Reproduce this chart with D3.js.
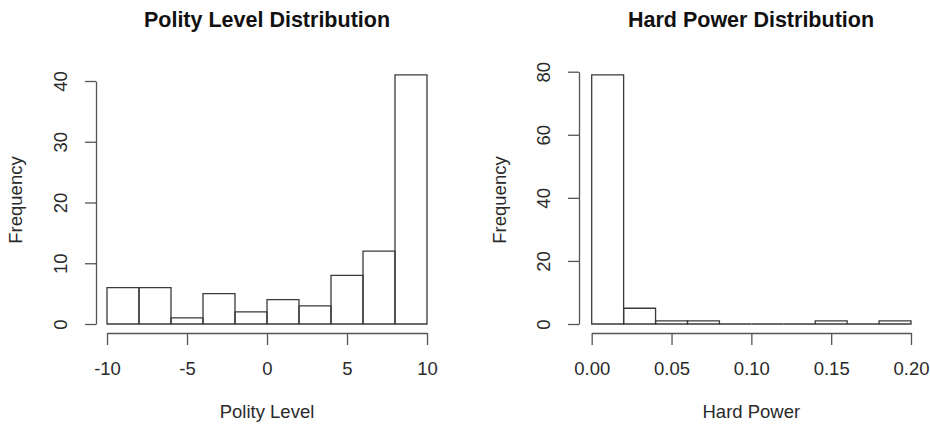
<!DOCTYPE html>
<html>
<head>
<meta charset="utf-8">
<script src="https://cdn.jsdelivr.net/npm/d3@7"></script>
<style>
  body { margin: 0; background: #fff; }
  svg { display: block; font-family: "Liberation Sans", Arial, Helvetica, sans-serif; }
</style>
</head>
<body>
<svg width="930" height="424"></svg>
<script>
/************************** DATA **************************/
var polityBreaks = [-10, -8, -6, -4, -2, 0, 2, 4, 6, 8, 10];
var polityCounts = [6, 6, 1, 5, 2, 4, 3, 8, 12, 41];
var polityXTicks = [-10, -5, 0, 5, 10];
var polityYTicks = [0, 10, 20, 30, 40];

var powerBreaks = [0, 0.02, 0.04, 0.06, 0.08, 0.10, 0.12, 0.14, 0.16, 0.18, 0.20];
var powerCounts = [79, 5, 1, 1, 0, 0, 0, 1, 0, 1];
var powerXTicks = [0, 0.05, 0.10, 0.15, 0.20];
var powerYTicks = [0, 20, 40, 60, 80];

/************************** LAYOUT **************************/
var svg = d3.select("svg");
var lineCol = "#3a3a3a", axisCol = "#555", textCol = "#2a2a2a";

// R prints a plain hyphen for negatives, not the unicode minus d3 uses
var hyphen = function(f) { return function(v) { return f(v).replace("\u2212", "-"); }; };

var panels = [
  {title: "Polity Level Distribution", xlab: "Polity Level",
   breaks: polityBreaks, counts: polityCounts, xticks: polityXTicks, yticks: polityYTicks,
   xfmt: hyphen(d3.format("d")),
   xr: [107, 427], yr: [324, 81], ymax: 40,
   yAxisX: 96, freqX: 22, titleX: 267},
  {title: "Hard Power Distribution", xlab: "Hard Power",
   breaks: powerBreaks, counts: powerCounts, xticks: powerXTicks, yticks: powerYTicks,
   xfmt: d3.format(".2f"),
   xr: [591.7, 911], yr: [324, 71.7], ymax: 80,
   yAxisX: 579, freqX: 506, titleX: 751}
];

var xAxisY = 333; // x axis sits a little below the bars, R style

panels.forEach(function(p) {
  var x = d3.scaleLinear().domain([p.breaks[0], p.breaks[p.breaks.length - 1]]).range(p.xr);
  var y = d3.scaleLinear().domain([0, p.ymax]).range(p.yr);

  // bars as closed paths so zero counts still show a flat box, like hist()
  var bins = p.counts.map(function(c, i) { return {x0: p.breaks[i], x1: p.breaks[i + 1], n: c}; });
  svg.append("g").selectAll("path")
    .data(bins)
    .join("path")
    .attr("d", function(d) {
      var l = x(d.x0), r = x(d.x1), t = y(d.n), b = y(0);
      return "M" + l + "," + b + "V" + t + "H" + r + "V" + b + "Z";
    })
    .attr("fill", "none")
    .attr("stroke", lineCol)
    .attr("stroke-width", 1.3);

  // x axis
  var gx = svg.append("g")
    .attr("transform", "translate(0," + xAxisY + ")")
    .call(d3.axisBottom(x).tickValues(p.xticks).tickFormat(p.xfmt).tickSize(12).tickSizeOuter(0));
  gx.selectAll("path, line").attr("stroke", axisCol).attr("stroke-width", 1.3);
  gx.selectAll("text").attr("font-size", 18.5).attr("fill", textCol)
    .attr("y", 42).attr("dy", 0);

  // y axis, labels turned sideways
  var gy = svg.append("g")
    .attr("transform", "translate(" + p.yAxisX + ",0)")
    .call(d3.axisLeft(y).tickValues(p.yticks).tickSize(11).tickSizeOuter(0));
  gy.selectAll("path, line").attr("stroke", axisCol).attr("stroke-width", 1.3);
  gy.selectAll("text")
    .attr("font-size", 18.5).attr("fill", textCol)
    .attr("x", 0).attr("y", -29).attr("dy", 0)
    .attr("text-anchor", "middle")
    .attr("transform", "rotate(-90)");

  svg.selectAll(".domain").attr("fill", "none");

  // titles and labels
  svg.append("text")
    .attr("x", p.titleX).attr("y", 27)
    .attr("text-anchor", "middle")
    .attr("font-size", 21.5).attr("font-weight", "bold").attr("fill", "#111")
    .text(p.title);

  svg.append("text")
    .attr("x", (p.xr[0] + p.xr[1]) / 2).attr("y", 418)
    .attr("text-anchor", "middle")
    .attr("font-size", 18.5).attr("fill", textCol)
    .text(p.xlab);

  svg.append("text")
    .attr("transform", "translate(" + p.freqX + ",200) rotate(-90)")
    .attr("text-anchor", "middle")
    .attr("font-size", 18.5).attr("fill", textCol)
    .text("Frequency");
});
</script>
</body>
</html>
